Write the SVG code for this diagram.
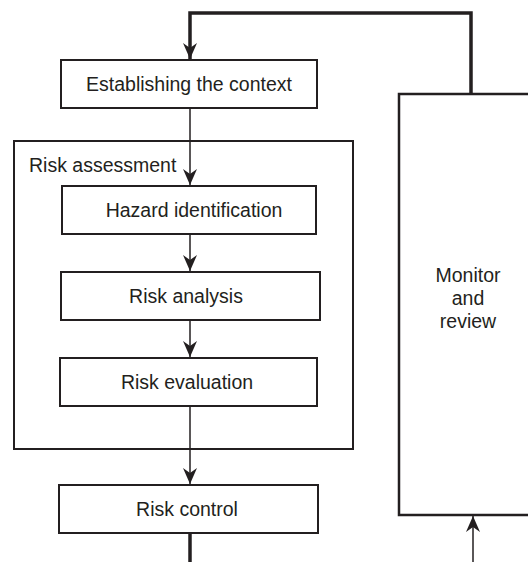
<svg xmlns="http://www.w3.org/2000/svg" width="528" height="562" viewBox="0 0 528 562">
<style>
.box{fill:#fff;stroke:#231f20;stroke-width:2}
.lbl{font-family:"Liberation Sans",Arial,sans-serif;font-size:19.5px;fill:#231f20;text-anchor:middle}
.thin{fill:none;stroke:#231f20;stroke-width:1.5}
.thick{fill:none;stroke:#231f20;stroke-width:3.5}
</style>
<defs>
<marker id="ah" markerUnits="userSpaceOnUse" markerWidth="20" markerHeight="20" viewBox="-18 -9 20 18" refX="0" refY="0" orient="auto">
<path d="M0,0 L-16,-7 L-11,0 L-16,7 Z" fill="#231f20"/>
</marker>
</defs>
<rect width="528" height="562" fill="#fff"/>
<g id="risk-assessment">
<rect class="box" x="14" y="141" width="339" height="308"/>
<text class="lbl" x="29" y="172" style="text-anchor:start">Risk assessment</text>
</g>
<g id="monitor-review">
<path class="box" d="M540,94 H399 V515 H540" style="stroke-width:2.5"/>
<text class="lbl" x="468" y="282">Monitor</text>
<text class="lbl" x="468" y="305">and</text>
<text class="lbl" x="468" y="328">review</text>
</g>
<g id="establishing">
<rect class="box" x="61" y="60" width="256" height="48"/>
<text class="lbl" x="189" y="91">Establishing the context</text>
</g>
<g id="hazard">
<rect class="box" x="62" y="186" width="254" height="48"/>
<text class="lbl" x="194" y="217">Hazard identification</text>
</g>
<g id="analysis">
<rect class="box" x="61" y="272" width="259" height="48"/>
<text class="lbl" x="186" y="303">Risk analysis</text>
</g>
<g id="evaluation">
<rect class="box" x="60" y="358" width="257" height="48"/>
<text class="lbl" x="187" y="389">Risk evaluation</text>
</g>
<g id="control">
<rect class="box" x="59" y="485" width="259" height="48"/>
<text class="lbl" x="187" y="516">Risk control</text>
</g>
<g id="connectors">
<path class="thick" d="M471,94 V13 H190 V59" marker-end="url(#ah)"/>
<path class="thin" d="M190,108 V185" marker-end="url(#ah)"/>
<path class="thin" d="M190,234 V271" marker-end="url(#ah)"/>
<path class="thin" d="M190,320 V357" marker-end="url(#ah)"/>
<path class="thin" d="M190,406 V484" marker-end="url(#ah)"/>
<path class="thick" d="M190,533 V562"/>
<path class="thin" d="M473,562 V516" marker-end="url(#ah)"/>
</g>
</svg>
